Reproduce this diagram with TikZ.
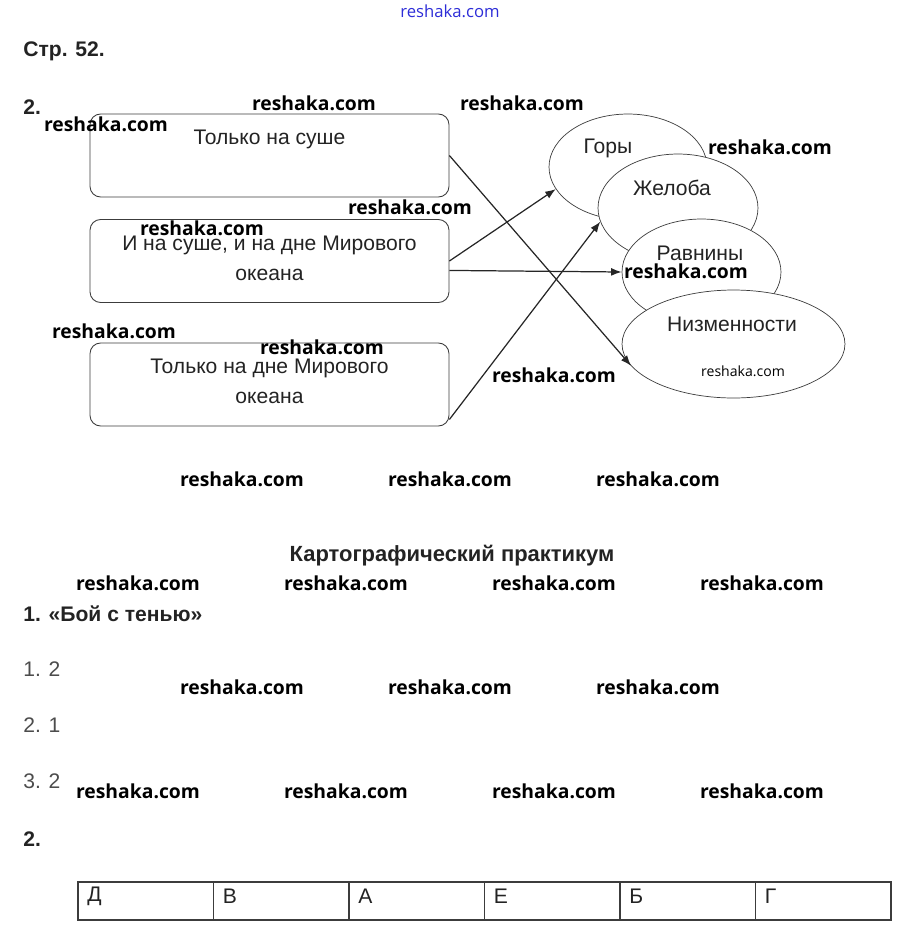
\documentclass[tikz,border=0pt]{standalone}
\usepackage{fontspec}
\setmainfont{Liberation Sans}
\newfontfamily\wmfont{Open Sans}
\usepackage{tikz}
\usetikzlibrary{shapes.geometric,arrows.meta}
\definecolor{txtgray}{RGB}{35,35,35}
\definecolor{linegray}{RGB}{60,60,60}
\definecolor{wmblue}{RGB}{45,45,215}

\tikzset{
  answerbox/.style={draw=linegray,line width=0.5pt,rounded corners=6pt,minimum width=7.18cm,minimum height=1.66cm,
    align=center,font=\fontsize{12}{17}\selectfont,text=txtgray,inner sep=0pt},
  landform/.style={ellipse,draw=linegray,line width=0.4pt,fill=white,inner sep=0pt},
  formlabel/.style={font=\fontsize{12}{14}\selectfont,text=txtgray,inner sep=0pt},
  link/.style={-{Latex[length=6pt,width=4.5pt]},line width=0.7pt,color=black!85},
  wm/.style={font=\wmfont\bfseries\fontsize{11}{13}\selectfont,inner sep=0pt},
  heading/.style={font=\bfseries\fontsize{12}{14}\selectfont,inner sep=0pt,text=txtgray},
  answer/.style={font=\fontsize{12}{14}\selectfont,anchor=west,inner sep=0pt,text=black!70},
}

\begin{document}
\begin{tikzpicture}[x=0.02cm,y=-0.02cm]
  \useasboundingbox (0,0) rectangle (899,938);
  \begin{scope}
    \node[wm,color=wmblue,font=\wmfont\fontsize{9.5}{11}\selectfont] (topmark) at (450,11) {reshaka.com};
    \node[heading,anchor=west] (page) at (23,51) {Стр. 52.};
    \node[heading,anchor=west] (task2) at (23,107) {2.};

    \node[answerbox] (box1) at (269.5,155.5) {Только на суше\\\mbox{}\\[-13.6pt]\mbox{}};
    \node[answerbox] (box2) at (269.5,261) {И на суше, и на дне Мирового\\океана\\[-13.6pt]\mbox{}};
    \node[answerbox] (box3) at (269.5,384.5) {Только на дне Мирового\\океана\\[-13.6pt]\mbox{}};

    \node[landform,minimum width=3.16cm,minimum height=2.12cm] (gory) at (628,167) {};
    \node[formlabel] (goryl) at (608,148) {Горы};
    \node[landform,minimum width=3.2cm,minimum height=2.16cm] (zhel) at (678,208) {};
    \node[formlabel] (zhell) at (672,188) {Желоба};
    \node[landform,minimum width=3.18cm,minimum height=2.12cm] (rav) at (701.5,272) {};
    \node[formlabel] (ravl) at (700,253) {Равнины};
    \node[landform,minimum width=4.46cm,minimum height=2.16cm] (niz) at (733.5,344) {};
    \node[formlabel] (nizl) at (732,324) {Низменности};
    \node[wm,font=\wmfont\fontsize{8}{10}\selectfont] (nizmark) at (743,371) {reshaka.com};

    \draw[link] (box1.east) -- (niz.192);
    \draw[link] (box2.east) -- (gory.197);
    \draw[link] (box2.-3.5) -- (rav.west);
    \draw[link] (box3.-11) -- (zhel.190);

    \node[heading,font=\bfseries\fontsize{12.5}{14}\selectfont] (practicum) at (452,556) {Картографический практикум};
    \node[heading,anchor=west] (shadow) at (23,614) {1. «Бой с тенью»};
    \node[answer] (ans1) at (23,669) {1. 2};
    \node[answer] (ans2) at (23,725) {2. 1};
    \node[answer] (ans3) at (23,781) {3. 2};
    \node[heading,anchor=west] (task2b) at (23,839) {2.};

    \draw[linegray,line width=0.6pt] (78,882) rectangle (891,920);
    \foreach \i/\l in {0/Д,1/В,2/А,3/Е,4/Б,5/Г}{
      \draw[linegray,line width=0.6pt] (78+135.5*\i,882) -- (78+135.5*\i,920);
      \node[answer,text=txtgray] (cell\i) at (87+135.5*\i,896) {\l};
    }

    \foreach \x/\y [count=\n] in {314/103,522/103,106/124,770/147,410/207,202/228,686/271,114/331,322/347,554/375,
        242/479,450/479,658/479,138/583,346/583,554/583,762/583,242/687,450/687,658/687,138/791,346/791,554/791,762/791}
      \node[wm] (mark\n) at (\x,\y) {reshaka.com};
  \end{scope}
\end{tikzpicture}
\end{document}
